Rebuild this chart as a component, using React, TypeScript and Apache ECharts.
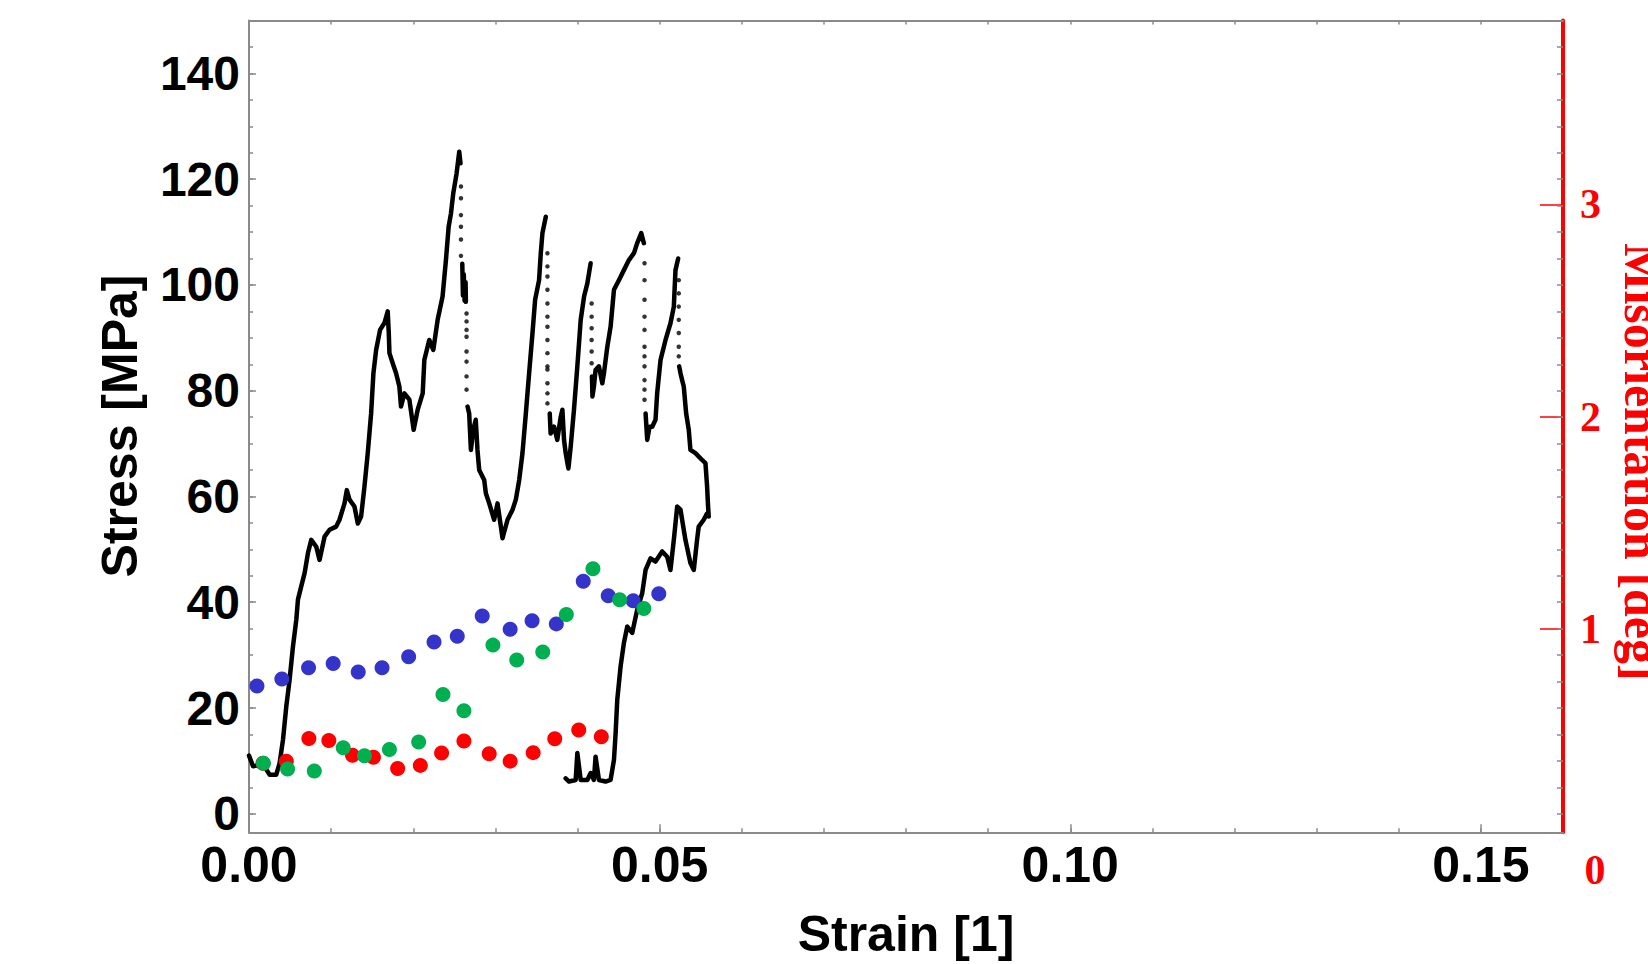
import React, { useEffect, useRef } from "react";
import * as echarts from "echarts";

// ---- Axis ticks / labels ----
const strainLabels = [0, 0.05, 0.1, 0.15];
const strainMinorTicks = [0.01, 0.02, 0.03, 0.04, 0.05, 0.06, 0.07, 0.08, 0.09, 0.1, 0.11, 0.12, 0.13, 0.14, 0.15];
const stressLabels = [0, 20, 40, 60, 80, 100, 120, 140];
const stressMinorTicks = [0, 5, 10, 15, 20, 25, 30, 35, 40, 45, 50, 55, 60, 65, 70, 75, 80, 85, 90, 95, 100, 105, 110, 115, 120, 125, 130, 135, 140, 145];
const misorientationLabels = [1, 2, 3];

// ---- Stress-strain curve: continuous segments [strain, stress MPa] ----
const curveSeg1: [number, number][] = [
  [0.0, 11.0], [0.00049, 9.0], [0.00171, 9.3], [0.00252, 7.4], [0.00332, 7.4], [0.00373, 9.6],
  [0.00414, 14.0], [0.00454, 20.3], [0.00494, 25.3], [0.00535, 31.6], [0.00576, 36.7], [0.00596, 40.5],
  [0.00636, 43.0], [0.00677, 45.5], [0.00718, 49.3], [0.00758, 51.8], [0.00819, 50.5], [0.00859, 48.0],
  [0.0092, 52.4], [0.00981, 53.7], [0.01061, 54.3], [0.01102, 55.6], [0.01163, 58.7], [0.01191, 61.2],
  [0.01224, 59.4], [0.01284, 58.1], [0.01325, 54.9], [0.01365, 56.2], [0.01406, 61.9], [0.01446, 68.2],
  [0.01487, 75.7], [0.01515, 83.3], [0.01548, 87.7], [0.01596, 91.5], [0.01649, 92.8], [0.01689, 95.0],
  [0.01702, 90.9], [0.0171, 87.1], [0.0175, 85.2], [0.01791, 83.3], [0.01831, 80.8], [0.01851, 77.0],
  [0.01892, 79.5], [0.01953, 78.3], [0.02005, 72.6], [0.02054, 76.4], [0.02115, 79.5], [0.02135, 85.8],
  [0.02195, 89.6], [0.02244, 87.7], [0.02297, 93.4], [0.02357, 97.8], [0.02398, 104.7], [0.02431, 111.0],
  [0.02459, 113.5], [0.02487, 117.3], [0.02528, 121.1], [0.0256, 125.2], [0.02575, 123.0],
];
const curveSeg2: [number, number][] = [
  [0.02597, 104.0], [0.02605, 98.0], [0.02615, 102.0], [0.02625, 97.0], [0.02637, 100.5], [0.02641, 96.8],
];
const curveSeg3: [number, number][] = [
  [0.02661, 77.0], [0.02681, 75.7], [0.02702, 68.8], [0.0273, 72.6], [0.02761, 74.5], [0.02782, 68.8],
  [0.02803, 65.0], [0.02864, 63.1], [0.02884, 60.6], [0.02925, 58.7], [0.02985, 55.6], [0.03026, 58.7],
  [0.03067, 54.3], [0.03087, 52.1], [0.03148, 55.6], [0.03209, 57.5], [0.03249, 59.4], [0.0329, 63.1],
  [0.0333, 68.2], [0.03371, 75.7], [0.03411, 83.3], [0.03452, 90.9], [0.03484, 97.2], [0.03532, 100.9],
  [0.03553, 106.0], [0.03573, 109.8], [0.03614, 112.9],
];
const curveSeg4: [number, number][] = [
  [0.03662, 75.7], [0.03673, 71.9], [0.03714, 73.2], [0.03754, 70.7], [0.03795, 75.0], [0.03816, 76.4],
  [0.03836, 70.7], [0.03856, 68.2], [0.03889, 65.3], [0.03917, 69.4], [0.03957, 76.4], [0.03998, 84.6],
  [0.04039, 93.4], [0.0408, 97.8], [0.0412, 100.3], [0.0416, 104.1],
];
const curveSeg5: [number, number][] = [
  [0.04176, 82.7], [0.04182, 78.9], [0.042, 80.8], [0.0422, 83.9], [0.04261, 84.6], [0.04302, 81.4],
  [0.04322, 83.3], [0.04363, 88.3], [0.04403, 92.1], [0.04444, 99.1], [0.04504, 100.9], [0.04565, 102.8],
  [0.04626, 104.7], [0.04687, 106.0], [0.04727, 107.9], [0.04776, 109.8], [0.04808, 107.9],
];
const curveSeg6: [number, number][] = [
  [0.04829, 75.7], [0.04849, 70.7], [0.04878, 73.2], [0.0491, 73.2], [0.0495, 74.5], [0.0497, 79.5],
  [0.05011, 85.8], [0.05072, 89.6], [0.05133, 92.8], [0.05173, 95.9], [0.05193, 102.8], [0.05226, 105.0],
];
const curveSeg7: [number, number][] = [
  [0.05238, 84.6], [0.05254, 83.3], [0.05274, 82.0], [0.05294, 80.8], [0.05323, 75.7], [0.05355, 72.6],
  [0.05375, 68.8], [0.05436, 68.2], [0.05517, 66.9], [0.05558, 66.3], [0.05578, 61.9], [0.0559, 58.1],
  [0.05598, 56.2], [0.05578, 56.8], [0.05537, 55.6], [0.05476, 54.3], [0.05456, 51.8], [0.05416, 46.1],
  [0.05375, 47.4], [0.05314, 51.8], [0.05254, 57.5], [0.05214, 58.1], [0.05193, 54.9], [0.05173, 51.8],
  [0.05132, 46.1], [0.05092, 48.6], [0.05031, 49.6], [0.0495, 47.7], [0.04889, 48.3], [0.04829, 46.1],
  [0.04788, 41.7], [0.04727, 38.6], [0.04666, 34.2], [0.04606, 35.4], [0.04565, 32.3], [0.04525, 27.9],
  [0.04484, 21.5], [0.04464, 15.2], [0.04444, 10.2], [0.04403, 6.4], [0.04342, 6.1], [0.04261, 6.4],
  [0.0422, 10.8], [0.042, 6.4], [0.0416, 7.7], [0.0412, 6.4], [0.04039, 6.4], [0.03998, 11.5],
  [0.03978, 6.4], [0.03897, 6.1], [0.03856, 6.7],
];

// ---- Sparse points during load drops: [strain, stress MPa] ----
const dropStrains = [0.02581, 0.02649, 0.03634, 0.04172, 0.04816, 0.05233];
const dropStresses: number[][] = [
  [118.6, 116.4, 113.2, 111.0, 108.6, 105.5],
  [94.6, 93.1, 91.5, 90.2, 87.4, 85.5, 82.7, 80.2],
  [106.0, 103.5, 101.6, 99.1, 96.5, 94.0, 92.1, 89.6, 87.1, 84.6, 84.0, 81.4, 79.5, 77.6],
  [96.5, 94.0, 91.8, 89.6, 87.4, 85.2],
  [104.1, 100.9, 97.2, 94.0, 91.5, 88.3, 86.5, 84.6, 82.0, 80.2, 78.3],
  [100.9, 98.4, 95.9, 93.4, 90.9, 88.3, 86.5],
];

// ---- Misorientation [deg] ----
const blueStrain = [0.00097, 0.004, 0.00725, 0.01025, 0.0133, 0.0162, 0.01944, 0.02253, 0.02536, 0.0284, 0.0318, 0.03447, 0.03742, 0.0407, 0.04374, 0.04678, 0.0499];
const blueDeg = [0.733, 0.765, 0.818, 0.838, 0.798, 0.818, 0.87, 0.94, 0.967, 1.062, 1.0, 1.04, 1.025, 1.226, 1.157, 1.134, 1.167];
const redStrain = [0.0017, 0.00454, 0.00729, 0.00972, 0.0126, 0.01515, 0.0181, 0.02086, 0.02345, 0.02617, 0.02925, 0.0318, 0.0346, 0.03723, 0.04015, 0.0429];
const redDeg = [0.369, 0.379, 0.486, 0.476, 0.407, 0.397, 0.344, 0.359, 0.417, 0.474, 0.414, 0.379, 0.419, 0.484, 0.526, 0.494];
const greenStrain = [0.00175, 0.0047, 0.00795, 0.01147, 0.01406, 0.0171, 0.02066, 0.02362, 0.02617, 0.0297, 0.0326, 0.03577, 0.03864, 0.04188, 0.04513, 0.04808];
const greenDeg = [0.369, 0.342, 0.332, 0.442, 0.404, 0.434, 0.469, 0.693, 0.616, 0.925, 0.855, 0.893, 1.069, 1.284, 1.139, 1.097];

const curveSegments = [curveSeg1, curveSeg2, curveSeg3, curveSeg4, curveSeg5, curveSeg6, curveSeg7];

const GRAY = "#8a8a8a";
const SANS = "'Liberation Sans', Arial, sans-serif";
const SERIF = "'Liberation Serif', 'Times New Roman', serif";

export default function App() {
  const ref = useRef<HTMLDivElement>(null);

  useEffect(() => {
    if (!ref.current) return;
    const chart = echarts.init(ref.current, undefined, { renderer: "svg" });

    const lineSeries = curveSegments.map((seg) => ({
      type: "line",
      xAxisIndex: 0,
      yAxisIndex: 0,
      data: seg,
      showSymbol: false,
      symbol: "none",
      lineStyle: { color: "#000", width: 4.5, join: "round", cap: "round" },
      z: 3,
      silent: true,
    }));

    const dropData: [number, number][] = [];
    dropStrains.forEach((s, i) => dropStresses[i].forEach((v) => dropData.push([s, v])));

    const zip = (a: number[], b: number[]) => a.map((x, i) => [x, b[i]]);

    const option: any = {
      animation: false,
      backgroundColor: "#fff",
      grid: { left: 249, right: 85, top: 20.5, bottom: 131.7, containLabel: false },
      xAxis: [
        {
          type: "value", min: 0, max: 0.16, position: "bottom",
          axisLine: { show: true, onZero: false, lineStyle: { color: GRAY, width: 2 } },
          axisTick: { show: true, inside: true, length: 8, customValues: [0.05, 0.1, 0.15], lineStyle: { color: GRAY, width: 1.5 } },
          axisLabel: {
            customValues: strainLabels, formatter: (v: number) => v.toFixed(2),
            fontSize: 50, fontWeight: "bold", color: "#000", fontFamily: SANS, margin: 8,
          },
          splitLine: { show: false },
        },
        {
          type: "value", min: 0, max: 0.16, position: "bottom",
          axisLine: { show: false, onZero: false },
          axisTick: { show: true, inside: true, length: 4, customValues: strainMinorTicks, lineStyle: { color: GRAY, width: 1.5 } },
          axisLabel: { show: false },
          splitLine: { show: false },
        },
        {
          type: "value", min: 0, max: 0.16, position: "top",
          axisLine: { show: true, onZero: false, lineStyle: { color: GRAY, width: 2 } },
          axisTick: { show: true, inside: true, length: 4, customValues: strainMinorTicks, lineStyle: { color: GRAY, width: 1.5 } },
          axisLabel: { show: false },
          splitLine: { show: false },
        },
      ],
      yAxis: [
        {
          type: "value", min: -3.5, max: 150, position: "left",
          axisLine: { show: true, onZero: false, lineStyle: { color: GRAY, width: 2 } },
          axisTick: { show: true, inside: true, length: 7, customValues: stressLabels, lineStyle: { color: GRAY, width: 1.5 } },
          axisLabel: {
            customValues: stressLabels, fontSize: 48, fontWeight: "bold", color: "#000",
            fontFamily: SANS, margin: 9,
          },
          splitLine: { show: false },
        },
        {
          type: "value", min: 0.044, max: 3.865, position: "right",
          axisLine: { show: true, onZero: false, lineStyle: { color: "#ff0000", width: 4 } },
          axisTick: { show: true, inside: true, length: 23, customValues: misorientationLabels, lineStyle: { color: "#ff0000", width: 1.5 } },
          axisLabel: {
            customValues: misorientationLabels, fontSize: 42, fontWeight: "bold", color: "#ff0000",
            fontFamily: SERIF, margin: 17,
          },
          splitLine: { show: false },
        },
        {
          type: "value", min: -3.5, max: 150, position: "left",
          axisLine: { show: false, onZero: false },
          axisTick: { show: true, inside: true, length: 4, customValues: stressMinorTicks, lineStyle: { color: GRAY, width: 1.5 } },
          axisLabel: { show: false },
          splitLine: { show: false },
        },
        {
          type: "value", min: -3.5, max: 150, position: "right",
          axisLine: { show: false, onZero: false },
          axisTick: { show: true, inside: true, length: 6, customValues: stressMinorTicks, lineStyle: { color: GRAY, width: 1.5 } },
          axisLabel: { show: false },
          splitLine: { show: false },
        },
      ],
      series: [
        ...lineSeries,
        {
          type: "scatter", xAxisIndex: 0, yAxisIndex: 0, data: dropData,
          symbol: "circle", symbolSize: 4.5, itemStyle: { color: "#000" }, z: 3, silent: true,
        },
        {
          type: "scatter", xAxisIndex: 0, yAxisIndex: 1, data: zip(blueStrain, blueDeg),
          symbol: "circle", symbolSize: 15, itemStyle: { color: "#3434cb", opacity: 1 }, z: 4, silent: true,
        },
        {
          type: "scatter", xAxisIndex: 0, yAxisIndex: 1, data: zip(redStrain, redDeg),
          symbol: "circle", symbolSize: 15, itemStyle: { color: "#ff0000", opacity: 1 }, z: 5, silent: true,
        },
        {
          type: "scatter", xAxisIndex: 0, yAxisIndex: 1, data: zip(greenStrain, greenDeg),
          symbol: "circle", symbolSize: 15, itemStyle: { color: "#00af50", opacity: 1 }, z: 6, silent: true,
        },
      ],
      graphic: [
        {
          type: "text", x: 120, y: 426, rotation: Math.PI / 2,
          style: {
            text: "Stress [MPa]", fill: "#000", fontSize: 50, fontWeight: "bold", fontFamily: SANS,
            align: "center", verticalAlign: "middle",
          },
        },
        {
          type: "text", x: 906, y: 934,
          style: {
            text: "Strain [1]", fill: "#000", fontSize: 50, fontWeight: "bold", fontFamily: SANS,
            align: "center", verticalAlign: "middle",
          },
        },
        {
          type: "text", x: 1617, y: 462, rotation: -Math.PI / 2,
          style: {
            text: "Misorientation [deg]", fill: "#ff0000", fontSize: 50, fontWeight: "bold", fontFamily: SERIF,
            align: "center", verticalAlign: "bottom",
          },
        },
        {
          type: "text", x: 1595, y: 870,
          style: {
            text: "0", fill: "#ff0000", fontSize: 42, fontWeight: "bold", fontFamily: SERIF,
            align: "center", verticalAlign: "middle",
          },
        },
      ],
    };

    chart.setOption(option);
    return () => chart.dispose();
  }, []);

  return (
    <div
      ref={ref}
      style={{ position: "fixed", left: 0, top: 0, width: 1648, height: 964, background: "#fff" }}
    />
  );
}
